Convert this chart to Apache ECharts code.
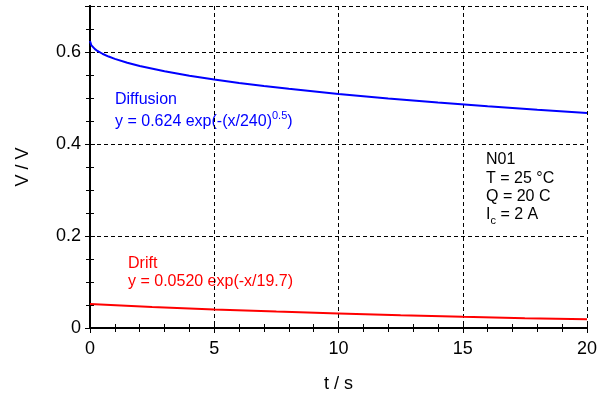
<!DOCTYPE html>
<html><head><meta charset="utf-8">
<script src="https://cdn.jsdelivr.net/npm/echarts@6/dist/echarts.min.js"></script>
<style>html,body{margin:0;padding:0;background:#fff}#c{width:605px;height:398px}</style>
</head><body><div id="c"></div>
<script>
const diffusionT = [0,0.05,0.1,0.2,0.3,0.5,0.75,1,1.5,2,3,4,5,6,7,8,10,12,14,16,18,20];
const diffusionV = [0.624,0.6151,0.6114,0.6062,0.6023,0.5962,0.5901,0.5850,0.5765,0.5696,0.5580,0.5484,0.5402,0.5328,0.5260,0.5199,0.5088,0.4990,0.4901,0.4820,0.4745,0.4676];
const driftT = [0,2.5,5,7.5,10,12.5,15,17.5,20];
const driftV = [0.0520,0.0458,0.0404,0.0356,0.0314,0.0276,0.0243,0.0214,0.0189];
const xTicks = [0,5,10,15,20];
const yTicks = [0,0.2,0.4,0.6];

const font = 'Liberation Sans, Arial, sans-serif';
const chart = echarts.init(document.getElementById('c'));
const frameLine = {show:true, lineStyle:{color:'#000', width:2}};
const gridDash = {show:true, lineStyle:{color:'#000', type:[4,3], width:1}};
chart.setOption({
  animation:false,
  grid:{left:90, right:18, top:6, bottom:68},
  xAxis:[
    {type:'value', min:0, max:20, interval:5, position:'bottom',
     axisLine:frameLine, axisTick:{show:true, inside:true, length:5, lineStyle:{color:'#000'}},
     minorTick:{show:true, splitNumber:5, length:4, lineStyle:{color:'#000'}},
     splitLine:gridDash,
     axisLabel:{color:'#000', fontSize:18, fontFamily:font, margin:12, formatter:v=>xTicks.includes(v)?String(v):''},
     name:'t / s', nameLocation:'middle', nameGap:47, nameTextStyle:{color:'#000', fontSize:18, fontFamily:font}},
    {type:'value', min:0, max:20, interval:5, position:'top',
     axisLine:frameLine, axisTick:{show:true, inside:true, length:5, lineStyle:{color:'#000'}},
     minorTick:{show:true, splitNumber:5, length:4, lineStyle:{color:'#000'}},
     splitLine:{show:false}, axisLabel:{show:false}}
  ],
  yAxis:[
    {type:'value', min:0, max:0.7, interval:0.2, position:'left',
     axisLine:frameLine, axisTick:{show:true, inside:true, length:5, lineStyle:{color:'#000'}},
     minorTick:{show:true, splitNumber:4, length:4, lineStyle:{color:'#000'}},
     splitLine:gridDash,
     axisLabel:{color:'#000', fontSize:18, fontFamily:font, margin:9, formatter:v=>{const t=yTicks.find(k=>Math.abs(k-v)<1e-9);return t===undefined?'':(t===0?'0':t.toFixed(1));}},
     name:'V / V', nameLocation:'middle', nameGap:58, nameRotate:90, nameTextStyle:{color:'#000', fontSize:18, fontFamily:font}},
    {type:'value', min:0, max:0.7, interval:0.2, position:'right',
     axisLine:frameLine, axisTick:{show:true, inside:true, length:5, lineStyle:{color:'#000'}},
     minorTick:{show:true, splitNumber:4, length:4, lineStyle:{color:'#000'}},
     splitLine:{show:false}, axisLabel:{show:false}}
  ],
  series:[
    {type:'line', name:'Diffusion', data:diffusionT.map((t,i)=>[t,diffusionV[i]]), showSymbol:false, smooth:false, lineStyle:{color:'#0000ff', width:2}, z:5},
    {type:'line', name:'Drift', data:driftT.map((t,i)=>[t,driftV[i]]), showSymbol:false, smooth:false, lineStyle:{color:'#ff0000', width:2}, z:5}
  ],
  graphic:[
    {type:'text', left:115, top:92, style:{text:'Diffusion', fill:'#0000ff', font:'16px '+font}},
    {type:'text', left:115, top:110, style:{text:'{a|y = 0.624 exp(-(x/240)}{s|0.5}{a|)}', rich:{a:{fill:'#0000ff', font:'16px '+font}, s:{fill:'#0000ff', font:'11px '+font, verticalAlign:'top', padding:[0,0,12,0]}}}},
    {type:'text', left:128, top:256, style:{text:'Drift', fill:'#ff0000', font:'16px '+font}},
    {type:'text', left:128, top:274, style:{text:'y = 0.0520 exp(-x/19.7)', fill:'#ff0000', font:'16px '+font}},
    {type:'text', left:486, top:152, style:{text:'N01', fill:'#000', font:'16px '+font}},
    {type:'text', left:486, top:170.5, style:{text:'T = 25 °C', fill:'#000', font:'16px '+font}},
    {type:'text', left:486, top:189, style:{text:'Q = 20 C', fill:'#000', font:'16px '+font}},
    {type:'text', left:486, top:207, style:{text:'{a|I}{s|c}{a| = 2 A}', rich:{a:{fill:'#000', font:'16px '+font}, s:{fill:'#000', font:'11px '+font, verticalAlign:'bottom', padding:[12,0,0,0]}}}}
  ]
});
</script></body></html>
